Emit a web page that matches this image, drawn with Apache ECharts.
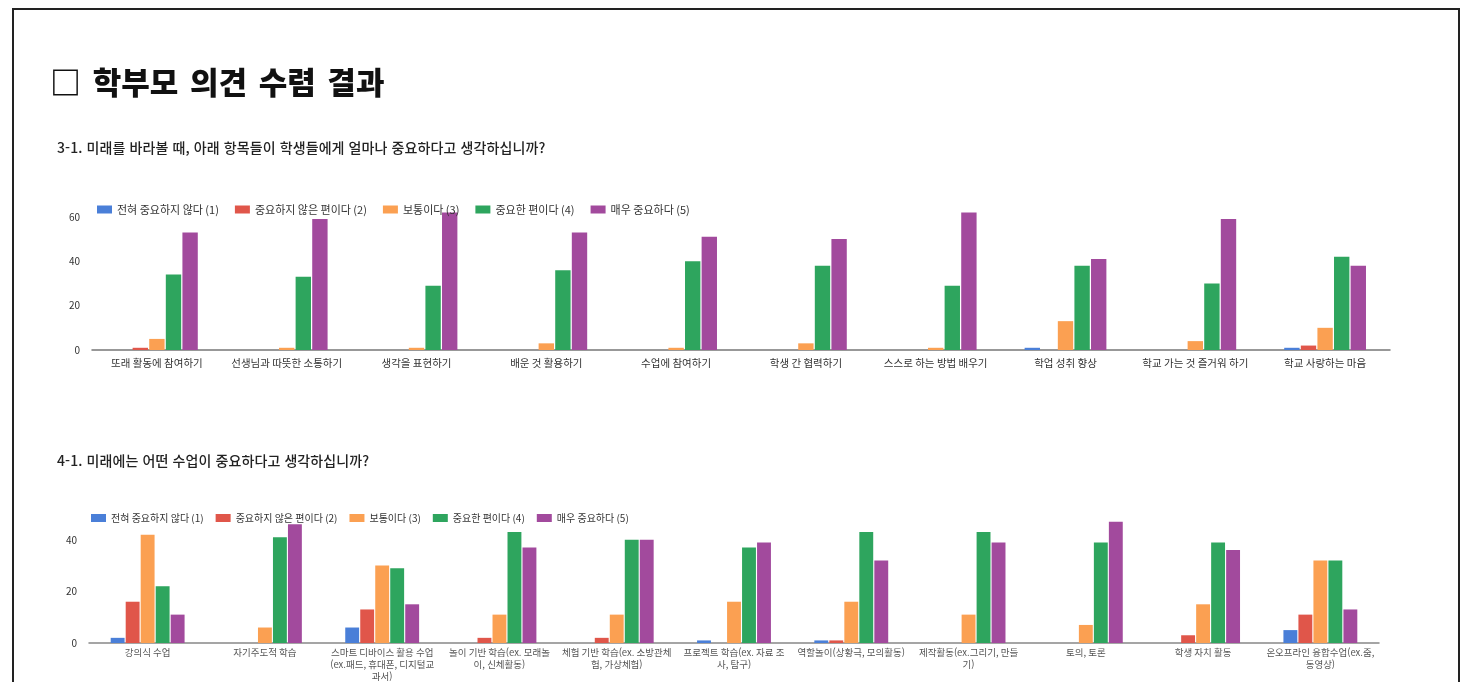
<!DOCTYPE html>
<html lang="ko">
<head>
<meta charset="utf-8">
<title>학부모 의견 수렴 결과</title>
<script src="https://cdn.jsdelivr.net/npm/echarts@6/dist/echarts.min.js"></script>
<style>
  html, body { margin: 0; padding: 0; background: #fff; overflow: hidden; }
  body { width: 1477px; height: 682px; position: relative; font-family: "Noto Sans CJK KR", "Noto Sans", sans-serif; }
  .frame { position: absolute; left: 12px; top: 8px; width: 1448px; height: 700px; border: 2px solid #222; box-sizing: border-box; }
  .page-title { position: absolute; left: 50px; top: 58px; font-size: 31px; font-weight: 900; color: #111; word-spacing: 3px; white-space: nowrap; }
  .q { position: absolute; left: 57px; font-size: 14px; font-weight: 500; color: #222; white-space: nowrap; letter-spacing: 0.1px; }
  #chart { position: absolute; left: 0; top: 0; width: 1477px; height: 682px; }
</style>
</head>
<body>
<div class="frame"></div>
<div id="chart"></div>
<div class="page-title">□ 학부모 의견 수렴 결과</div>
<div class="q" style="top:137px">3-1. 미래를 바라볼 때, 아래 항목들이 학생들에게 얼마나 중요하다고 생각하십니까?</div>
<div class="q" style="top:450px">4-1. 미래에는 어떤 수업이 중요하다고 생각하십니까?</div>

<script>
// 응답 척도
const levels = ['전혀 중요하지 않다 (1)', '중요하지 않은 편이다 (2)', '보통이다 (3)', '중요한 편이다 (4)', '매우 중요하다 (5)']
const colors = ['#4a7fd8', '#e0564a', '#fba052', '#2ea55e', '#a24a9d']

// 3-1 문항
const q3Cats = ['또래 활동에 참여하기', '선생님과 따뜻한 소통하기', '생각을 표현하기', '배운 것 활용하기', '수업에 참여하기',
  '학생 간 협력하기', '스스로 하는 방법 배우기', '학업 성취 향상', '학교 가는 것 즐거워 하기', '학교 사랑하는 마음']
const q3Lv1 = [0, 0, 0, 0, 0, 0, 0, 1, 0, 1]
const q3Lv2 = [1, 0, 0, 0, 0, 0, 0, 0, 0, 2]
const q3Lv3 = [5, 1, 1, 3, 1, 3, 1, 13, 4, 10]
const q3Lv4 = [34, 33, 29, 36, 40, 38, 29, 38, 30, 42]
const q3Lv5 = [53, 59, 62, 53, 51, 50, 62, 41, 59, 38]

// 4-1 문항
const q4Cats = ['강의식 수업', '자기주도적 학습', '스마트 디바이스 활용 수업\n(ex.패드, 휴대폰, 디지털교\n과서)',
  '놀이 기반 학습(ex. 모래놀\n이, 신체활동)', '체험 기반 학습(ex. 소방관체\n험, 가상체험)', '프로젝트 학습(ex. 자료 조\n사, 탐구)',
  '역할놀이(상황극, 모의활동)', '제작활동(ex.그리기, 만들\n기)', '토의, 토론', '학생 자치 활동', '온오프라인 융합수업(ex.줌,\n동영상)']
const q4Lv1 = [2, 0, 6, 0, 0, 1, 1, 0, 0, 0, 5]
const q4Lv2 = [16, 0, 13, 2, 2, 0, 1, 0, 0, 3, 11]
const q4Lv3 = [42, 6, 30, 11, 11, 16, 16, 11, 7, 15, 32]
const q4Lv4 = [22, 41, 29, 43, 40, 37, 43, 43, 39, 39, 32]
const q4Lv5 = [11, 46, 15, 37, 40, 39, 32, 39, 47, 36, 13]

const q3Series = [q3Lv1, q3Lv2, q3Lv3, q3Lv4, q3Lv5]
const q4Series = [q4Lv1, q4Lv2, q4Lv3, q4Lv4, q4Lv5]

const FONT = '"Noto Sans CJK KR", "Noto Sans", sans-serif'

const chart = echarts.init(document.getElementById('chart'))

function legendAt(left, top, fontSize, itemGap) {
  return {
    left, top,
    data: levels,
    icon: 'rect',
    itemWidth: 15,
    itemHeight: 8,
    itemGap,
    selectedMode: false,
    textStyle: { fontFamily: FONT, fontSize, color: '#333' }
  }
}

const valueAxis = (gridIndex, max) => ({
  type: 'value',
  gridIndex,
  min: 0,
  max,
  interval: 20,
  axisLine: { show: false },
  axisTick: { show: false },
  splitLine: { show: false },
  axisLabel: { showMaxLabel: false, margin: 12, fontFamily: FONT, fontSize: 10, color: '#333' }
})

const bars = (data, gridIndex) => data.map((vals, i) => ({
  name: levels[i],
  type: 'bar',
  xAxisIndex: gridIndex,
  yAxisIndex: gridIndex,
  data: vals,
  barGap: '8%',
  barCategoryGap: '37%',
  itemStyle: { color: colors[i] }
}))

chart.setOption({
  animation: false,
  color: colors,
  legend: [legendAt(92, 199, 11, 16), legendAt(86, 508, 10, 12)],
  grid: [
    { left: 92, right: 87, top: 208, height: 142 },
    { left: 89, right: 98, top: 514, height: 133 }
  ],
  xAxis: [
    {
      type: 'category', gridIndex: 0, data: q3Cats,
      axisLine: { lineStyle: { color: '#777', width: 1.5 } },
      axisTick: { show: false },
      axisLabel: { interval: 0, margin: 8, fontFamily: FONT, fontSize: 10.5, color: '#333' }
    },
    {
      type: 'category', gridIndex: 1, data: q4Cats,
      axisLine: { lineStyle: { color: '#888', width: 1.5 } },
      axisTick: { show: false },
      axisLabel: { interval: 0, margin: 3, fontFamily: FONT, fontSize: 9.5, lineHeight: 12, color: '#555' }
    }
  ],
  yAxis: [valueAxis(0, 64), valueAxis(1, 50)],
  series: [...bars(q3Series, 0), ...bars(q4Series, 1)]
})
</script>
</body>
</html>
